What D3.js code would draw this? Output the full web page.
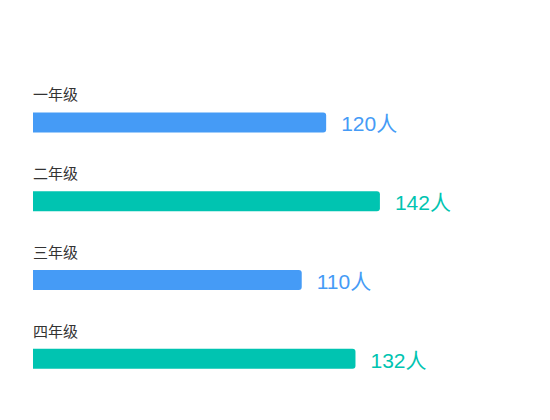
<!DOCTYPE html>
<html>
<head>
<meta charset="utf-8">
<script src="https://cdn.jsdelivr.net/npm/d3@7"></script>
<style>
html,body{margin:0;padding:0;background:#fff;}
svg{display:block;}
</style>
</head>
<body>
<svg id="chart" width="550" height="420"></svg>
<script>
const categories = ["一年级", "二年级", "三年级", "四年级"];
const values = [120, 142, 110, 132];
const unit = "人";
const colors = ["#459BF6", "#00C4B1", "#459BF6", "#00C4B1"];

const svg = d3.select("#chart");
const x = d3.scaleLinear().domain([0, 200]).range([33, 521.6]);
const y = d3.scaleBand().domain(categories).range([83, 398]).paddingInner(0).paddingOuter(0);
const barH = 20;
const cjk = "'PingFang SC','Noto Sans CJK SC',sans-serif";
const num = "'Liberation Sans','Noto Sans CJK SC',sans-serif";

function barPath(x0, x1, yc, h, r) {
  const t = yc - h / 2, b = yc + h / 2;
  const p = d3.path();
  p.moveTo(x0, t);
  p.lineTo(x1 - r, t);
  p.arcTo(x1, t, x1, t + r, r);
  p.lineTo(x1, b - r);
  p.arcTo(x1, b, x1 - r, b, r);
  p.lineTo(x0, b);
  p.closePath();
  return p.toString();
}

const g = svg.append("g");
const rows = g.selectAll("g.row").data(categories).join("g").attr("class", "row");

rows.each(function(c, i) {
  const row = d3.select(this);
  const yc = y(c) + y.bandwidth() / 2;
  row.append("text")
    .attr("x", x(0))
    .attr("y", yc - 22)
    .attr("font-family", cjk)
    .attr("font-size", 15)
    .attr("fill", "#333")
    .text(c);
  row.append("path")
    .attr("d", barPath(x(0), x(values[i]), yc, barH, 3))
    .attr("fill", colors[i]);
  row.append("text")
    .attr("x", x(values[i]) + 15)
    .attr("y", yc + 9)
    .attr("font-family", num)
    .attr("font-size", 21)
    .attr("fill", colors[i])
    .text(values[i] + unit);
});
</script>
</body>
</html>
